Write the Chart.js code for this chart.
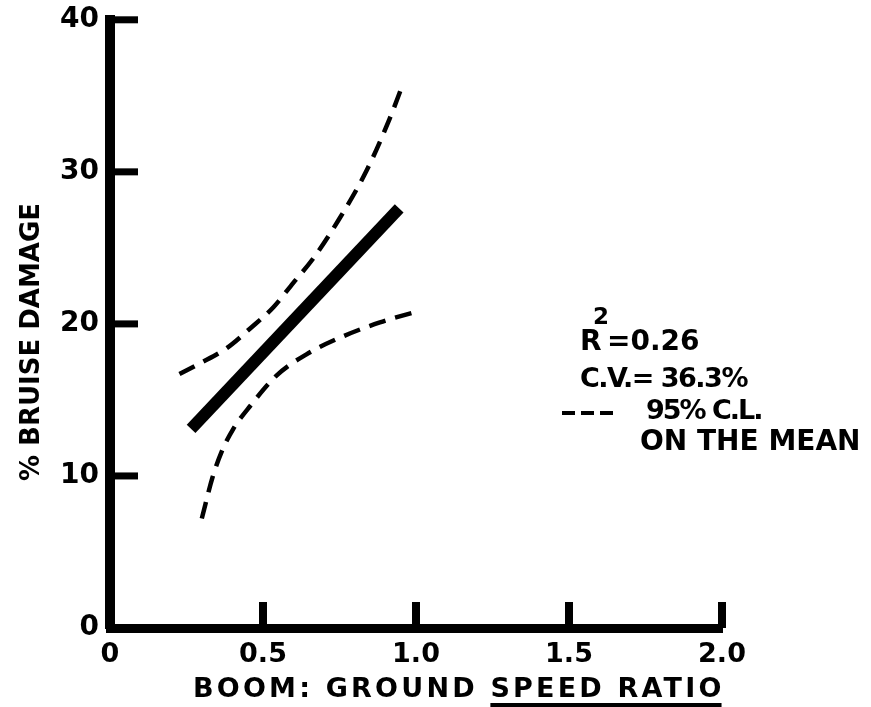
<!DOCTYPE html>
<html>
<head>
<meta charset="utf-8">
<script src="https://cdn.jsdelivr.net/npm/chart.js@4/dist/chart.umd.min.js"></script>
<style>
  html, body { margin: 0; padding: 0; background: #fff; }
  #wrap { width: 871px; height: 707px; }
</style>
</head>
<body>
<div id="wrap"><canvas id="chart"></canvas></div>
<script>
// values
var xTicks = [0, 0.5, 1.0, 1.5, 2.0];
var yTicks = [0, 10, 20, 30, 40];

var meanX = [0.265, 0.945];
var meanY = [13.1, 27.6];

var upperX = [0.227, 0.294, 0.381, 0.458, 0.534, 0.599, 0.664, 0.749, 0.839, 0.912, 0.956];
var upperY = [16.7, 17.4, 18.4, 19.7, 21.1, 22.7, 24.3, 26.9, 30.1, 33.4, 35.7];

var lowerX = [0.300, 0.335, 0.365, 0.403, 0.458, 0.544, 0.642, 0.752, 0.882, 1.010];
var lowerY = [7.2, 9.9, 11.6, 13.1, 14.6, 16.6, 18.0, 19.1, 20.1, 20.85];

var notes = ['=0.26', 'C.V.= 36.3%', '95% C.L.', 'ON THE MEAN'];
var xTitle = ['BOOM: GROUND ', 'SPEED RATIO'];
var yTitle = '% BRUISE DAMAGE';

var FONT = '"DejaVu Sans", sans-serif';

function pts(xs, ys) {
    return xs.map(function (x, i) { return { x: x, y: ys[i] }; });
}

function spacing(ctx, px) {
    if ('letterSpacing' in ctx) ctx.letterSpacing = px + 'px';
}

// inward tick marks, titles and the note block
var decor = {
    id: 'decor',
    afterDraw: function (chart) {
        var ctx = chart.ctx;
        var xs = chart.scales.x, ys = chart.scales.y;
        var a = chart.chartArea;
        ctx.save();
        ctx.fillStyle = '#000';
        ctx.strokeStyle = '#000';

        // y ticks point right into the plot
        yTicks.slice(1).forEach(function (v) {
            var py = ys.getPixelForValue(v);
            ctx.fillRect(a.left, py - 3.5, 28, 7);
        });
        // x ticks point up into the plot
        xTicks.slice(1).forEach(function (v) {
            var px = xs.getPixelForValue(v);
            ctx.fillRect(px - 4, a.bottom - 26, 8, 26);
        });

        // y title
        ctx.save();
        ctx.translate(32, 342);
        ctx.rotate(-Math.PI / 2);
        ctx.font = 'bold 26px ' + FONT;
        ctx.textAlign = 'center';
        ctx.textBaseline = 'middle';
        ctx.fillText(yTitle, 0, 0);
        ctx.restore();

        // x title with the underline under the second part
        ctx.font = 'bold 27px ' + FONT;
        ctx.textBaseline = 'alphabetic';
        ctx.textAlign = 'left';
        spacing(ctx, 3.2);
        var w1 = ctx.measureText(xTitle[0]).width;
        var w2 = ctx.measureText(xTitle[1]).width;
        ctx.fillText(xTitle[0], 193, 697);
        ctx.fillText(xTitle[1], 193 + w1, 697);
        ctx.fillRect(193 + w1, 703, w2 - 3, 4);
        spacing(ctx, 0);

        // notes
        ctx.textBaseline = 'middle';
        ctx.font = 'bold 28px ' + FONT;
        ctx.fillText('R', 580, 343);
        ctx.font = 'bold 23px ' + FONT;
        ctx.fillText('2', 593, 318);
        ctx.font = 'bold 28px ' + FONT;
        ctx.fillText(notes[0], 607, 343);
        ctx.font = 'bold 27px ' + FONT;
        spacing(ctx, -1.5);
        ctx.fillText(notes[1], 580, 380);
        spacing(ctx, 0);
        ctx.lineWidth = 4;
        ctx.setLineDash([13, 6]);
        ctx.beginPath();
        ctx.moveTo(562, 413);
        ctx.lineTo(614, 413);
        ctx.stroke();
        ctx.setLineDash([]);
        ctx.font = 'bold 27px ' + FONT;
        spacing(ctx, -2);
        ctx.fillText(notes[2], 646, 412);
        spacing(ctx, 0);
        ctx.font = 'bold 28px ' + FONT;
        ctx.fillText(notes[3], 640, 443);
        ctx.restore();
    }
};

new Chart(document.getElementById('chart'), {
    type: 'line',
    data: {
        datasets: [{
            label: 'mean',
            data: pts(meanX, meanY),
            borderColor: '#000',
            borderWidth: 12,
            pointRadius: 0
        }, {
            label: 'upper 95% C.L.',
            data: pts(upperX, upperY),
            borderColor: '#000',
            borderWidth: 4.5,
            borderDash: [17, 10],
            cubicInterpolationMode: 'monotone',
            pointRadius: 0
        }, {
            label: 'lower 95% C.L.',
            data: pts(lowerX, lowerY),
            borderColor: '#000',
            borderWidth: 4.5,
            borderDash: [17, 10],
            cubicInterpolationMode: 'monotone',
            pointRadius: 0
        }]
    },
    options: {
        responsive: true,
        maintainAspectRatio: false,
        animation: false,
        events: [],
        layout: { padding: { left: 0, top: 17, right: 149, bottom: 0 } },
        plugins: {
            legend: { display: false },
            tooltip: { enabled: false }
        },
        scales: {
            x: {
                type: 'linear',
                min: 0,
                max: 2,
                afterFit: function (s) { s.height = 79; },
                afterBuildTicks: function (s) {
                    s.ticks = xTicks.map(function (v) { return { value: v }; });
                },
                grid: { display: false },
                border: { display: true, color: '#000', width: 9 },
                ticks: {
                    color: '#000',
                    font: { family: FONT, size: 27, weight: 'bold' },
                    padding: 3,
                    maxRotation: 0,
                    callback: function (v) { return v === 0 ? '0' : v.toFixed(1); }
                }
            },
            y: {
                type: 'linear',
                min: 0,
                max: 40,
                afterFit: function (s) { s.width = 110; },
                afterBuildTicks: function (s) {
                    s.ticks = yTicks.map(function (v) { return { value: v }; });
                },
                grid: { display: false },
                border: { display: true, color: '#000', width: 10 },
                ticks: {
                    color: '#000',
                    font: { family: FONT, size: 28, weight: 'bold' },
                    padding: 3
                }
            }
        }
    },
    plugins: [decor]
});
</script>
</body>
</html>
